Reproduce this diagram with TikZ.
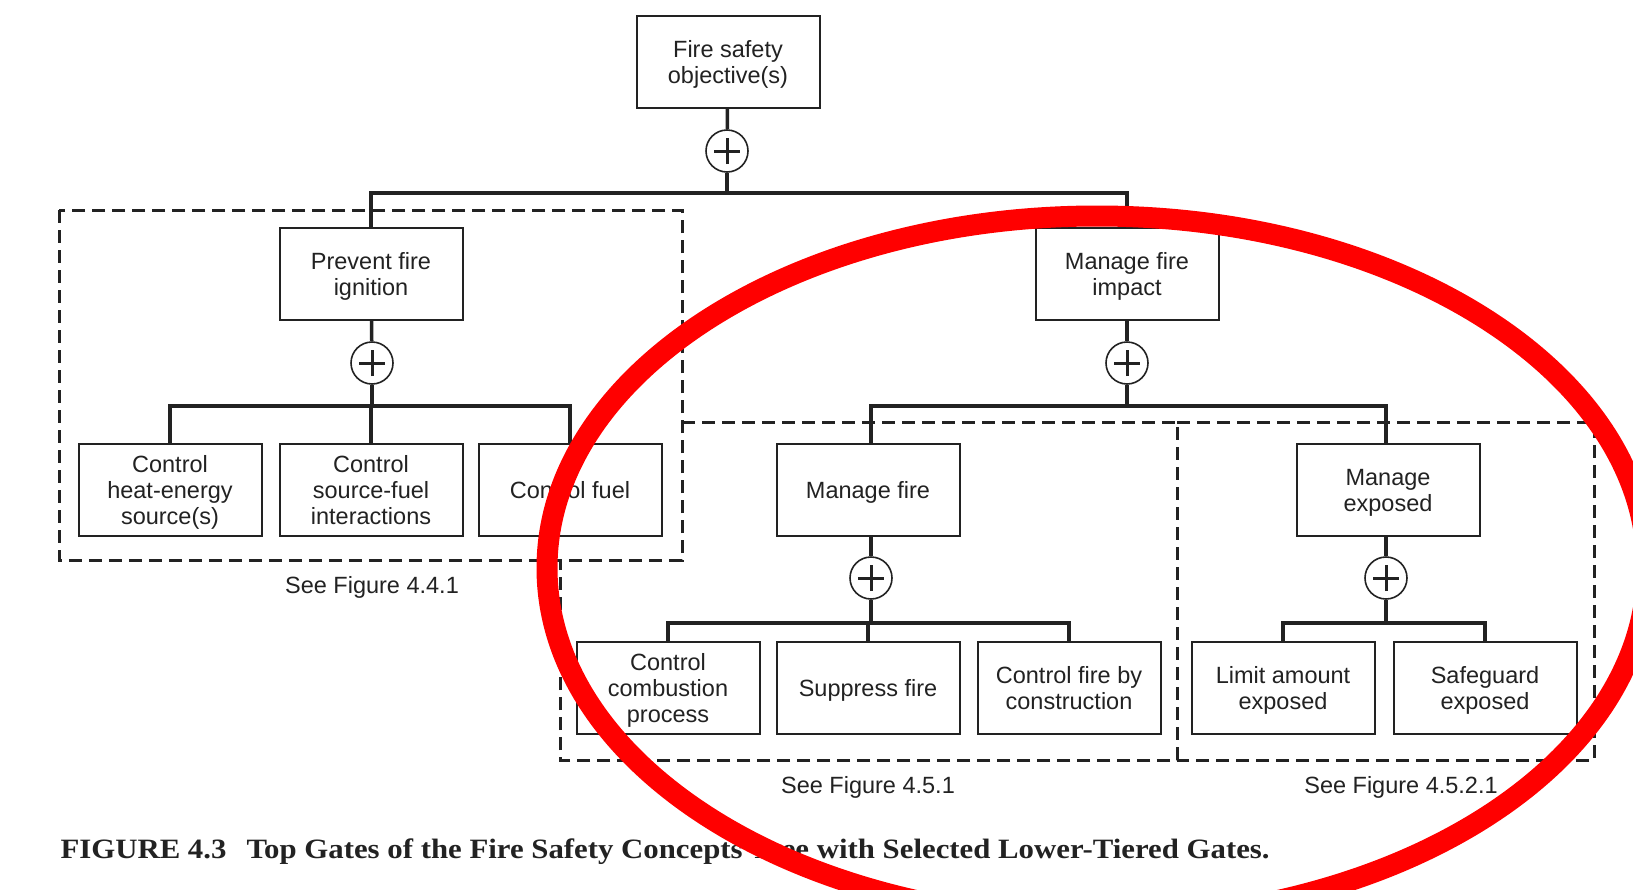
\documentclass[tikz,border=0pt]{standalone}
\usepackage{fontspec}
\setmainfont{Liberation Sans}
\newfontfamily\capfont[FakeStretch=1.1]{Liberation Serif}
\definecolor{ink}{HTML}{222222}
\tikzset{
  box/.style={draw=ink, line width=2pt, minimum width=183pt, minimum height=92pt,
    align=center, inner sep=2pt, text depth=-5pt, text=ink, font=\fontsize{23.5}{26}\selectfont},
  gate/.style={circle, draw=ink, line width=1.6pt, minimum size=42pt, inner sep=0pt, fill=white,
    path picture={\draw[ink, line width=3pt]
      ([xshift=-13pt]path picture bounding box.center) -- ([xshift=13pt]path picture bounding box.center)
      ([yshift=-13pt]path picture bounding box.center) -- ([yshift=13pt]path picture bounding box.center);}},
  link/.style={draw=ink, line width=3.5pt},
  group/.style={draw=ink, line width=3pt, dash pattern=on 13pt off 7pt},
  note/.style={text=ink, font=\fontsize{23.5}{26}\selectfont}
}
\begin{document}
\begin{tikzpicture}[x=1pt,y=-1pt]
  \useasboundingbox (0,0) rectangle (1633,889);
  \fill[white] (0,0) rectangle (1633,889);

  % dashed groups
  \draw[group] (59,210) rectangle (682,560);
  \draw[group] (682,422) -- (1177,422) -- (1177,760) -- (560,760) -- (560,560);
  \draw[group] (1177,422) -- (1594,422) -- (1594,760) -- (1177,760);
  \node[note] (see1) at (372,587) {See Figure 4.4.1};
  \node[note] (see2) at (868,787) {See Figure 4.5.1};
  \node[note] (see3) at (1401,787) {See Figure 4.5.2.1};

  % top level
  \node[box] (top) at (728,62) {Fire safety\\objective(s)};
  \node[gate] (g0) at (727,151) {};
  \node[box] (prevent) at (371,274) {Prevent fire\\ignition};
  \node[box] (manage) at (1127,274) {Manage fire\\impact};

  % prevent branch
  \node[gate] (g1) at (372,363) {};
  \node[box] (cheat) at (170,490) {Control\\heat-energy\\source(s)};
  \node[box] (csrc) at (371,490) {Control\\source-fuel\\interactions};
  \node[box] (cfuel) at (570,490) {Control fuel};

  % manage branch
  \node[gate] (g2) at (1127,363) {};
  \node[box] (mfire) at (868,490) {Manage fire};
  \node[box] (mexp) at (1388,490) {Manage\\exposed};
  \node[gate] (g3) at (871,578) {};
  \node[gate] (g4) at (1386,578) {};
  \node[box] (ccomb) at (668,688) {Control\\combustion\\process};
  \node[box] (supp) at (868,688) {Suppress fire};
  \node[box] (ccons) at (1069,688) {Control fire by\\construction};
  \node[box] (limit) at (1283,688) {Limit amount\\exposed};
  \node[box] (safe) at (1485,688) {Safeguard\\exposed};

  % connectors
  \draw[link] (top) -- (g0);
  \draw[link] (prevent) -- (g1);
  \draw[link] (manage) -- (g2);
  \draw[link] (g3.north) -- (g3.north |- mfire.south);
  \draw[link] (g4.north) -- (g4.north |- mexp.south);
  \foreach \c in {prevent, manage}
    \draw[link] (g0.south) -- ++(0,20) -| (\c.north);
  \foreach \c in {cheat, csrc, cfuel}
    \draw[link] (g1.south) -- ++(0,21) -| (\c.north);
  \draw[link] (g2.south) -- ++(0,21) -| (g3.north |- mfire.north);
  \draw[link] (g2.south) -- ++(0,21) -| (g4.north |- mexp.north);
  \foreach \c in {ccomb, supp, ccons}
    \draw[link] (g3.south) -- ++(0,23) -| (\c.north);
  \foreach \c in {limit, safe}
    \draw[link] (g4.south) -- ++(0,23) -| (\c.north);

  % caption
  \node[anchor=west, text=ink, font=\capfont\bfseries\fontsize{28}{30}\selectfont] (cap) at (57,852)
    {FIGURE 4.3\hspace{20pt}Top Gates of the Fire Safety Concepts Tree with Selected Lower-Tiered Gates.};

  % red mark
  \draw[red, line width=21pt] (1097,568) ellipse [x radius=550, y radius=352];
\end{tikzpicture}
\end{document}
